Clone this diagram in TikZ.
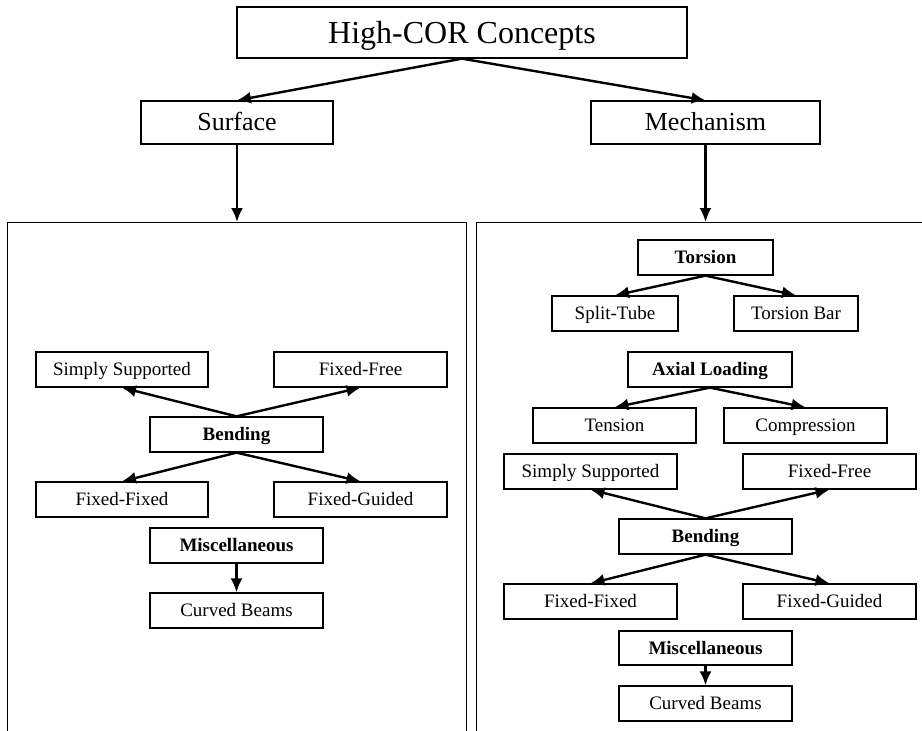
\documentclass[tikz,border=0pt]{standalone}
\usepackage{fontspec}
\setmainfont{Liberation Serif}
\usetikzlibrary{arrows.meta}
\tikzset{box/.style={draw, line width=1.3pt, inner sep=0pt, minimum width=173pt, minimum height=35pt, text height=12.6pt, text depth=0pt, font=\fontsize{19}{22}\selectfont},
  head/.style={box, font=\fontsize{19}{22}\selectfont\bfseries},
  link/.style={line width=2.4pt, -{Latex[length=14pt,width=12pt]}},
  panel/.style={line width=0.9pt}}

\begin{document}
\begin{tikzpicture}[x=1pt, y=-1pt]
  \useasboundingbox (0,0) rectangle (922,731);
  % top levels
  \node[box, minimum width=450pt, minimum height=51pt, text height=21pt, font=\fontsize{32}{36}\selectfont] (top) at (462,32.5) {High-COR Concepts};
  \node[box, minimum width=192pt, minimum height=43pt, text height=16.5pt, font=\fontsize{26}{30}\selectfont] (surf) at (237,122.5) {Surface};
  \node[box, minimum width=229pt, minimum height=43pt, text height=16.5pt, font=\fontsize{26}{30}\selectfont] (mech) at (705.5,122.5) {Mechanism};
  \coordinate (lin) at (237,222);
  \coordinate (rin) at (705.5,222);
  \draw[panel] (7,731) -- (7,222) -- (466,222) -- (466,731);
  \draw[panel] (476,731) -- (476,222) -- (922,222);
  \draw[link] (top.south) -- (surf.north);
  \draw[link] (top.south) -- (mech.north);
  \draw[link] (surf.south) -- (lin);
  \draw[link] (mech.south) -- (rin);

  % surface panel
  \node[box, minimum width=172pt] (lss) at (122,369.5) {Simply Supported};
  \node[box] (lff) at (360.5,369.5) {Fixed-Free};
  \node[head] (lbend) at (236.5,434.5) {Bending};
  \node[box, minimum width=172pt] (lfx) at (122,499.5) {Fixed-Fixed};
  \node[box] (lfg) at (360.5,499.5) {Fixed-Guided};
  \node[head] (lmisc) at (236.5,545.5) {Miscellaneous};
  \node[box] (lcurv) at (236.5,610.5) {Curved Beams};
  \draw[link] (lbend.north) -- (lss.south);
  \draw[link] (lbend.north) -- (lff.south);
  \draw[link] (lbend.south) -- (lfx.north);
  \draw[link] (lbend.south) -- (lfg.north);
  \draw[link] (lmisc.south) -- (lcurv.north);

  % mechanism panel
  \node[head, minimum width=135pt] (tors) at (705.5,257.5) {Torsion};
  \node[box, minimum width=126pt] (split) at (615,313.5) {Split-Tube};
  \node[box, minimum width=124pt] (tbar) at (796,313.5) {Torsion Bar};
  \node[head, minimum width=164pt] (axial) at (710,369.5) {Axial Loading};
  \node[box, minimum width=163pt] (tens) at (614.5,425.5) {Tension};
  \node[box, minimum width=163pt] (comp) at (805.5,425.5) {Compression};
  \node[box] (rss) at (590.5,471.5) {Simply Supported};
  \node[box] (rff) at (829.5,471.5) {Fixed-Free};
  \node[head] (rbend) at (705.5,536.5) {Bending};
  \node[box] (rfx) at (590.5,601.5) {Fixed-Fixed};
  \node[box] (rfg) at (829.5,601.5) {Fixed-Guided};
  \node[head, minimum height=34pt] (rmisc) at (705.5,648) {Miscellaneous};
  \node[box] (rcurv) at (705.5,703.5) {Curved Beams};
  \draw[link] (tors.south) -- (split.north);
  \draw[link] (tors.south) -- (tbar.north);
  \draw[link] (axial.south) -- (tens.north);
  \draw[link] (axial.south) -- (comp.north);
  \draw[link] (rbend.north) -- (rss.south);
  \draw[link] (rbend.north) -- (rff.south);
  \draw[link] (rbend.south) -- (rfx.north);
  \draw[link] (rbend.south) -- (rfg.north);
  \draw[link] (rmisc.south) -- (rcurv.north);
\end{tikzpicture}
\end{document}
